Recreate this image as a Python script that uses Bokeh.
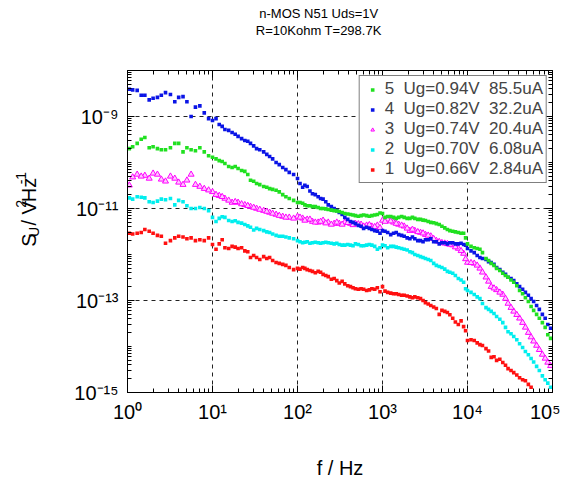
import math
from bokeh.plotting import figure
from bokeh.layouts import row, column
from bokeh.models import (Range1d, LogAxis, FixedTicker, Legend, LegendItem,
                          CustomJSTickFormatter)
from bokeh.core.properties import value
from bokeh.embed import file_html
from bokeh.resources import INLINE

# ---------------- data ----------------
freq = [1.05, 1.3, 1.6, 2.0, 2.5, 3.2, 4.0, 5.0, 6.3, 8.0,
        10, 12, 14, 17, 20, 24, 28, 33, 40, 47, 56, 67, 80,
        100, 115, 130, 150, 175, 200, 230, 270, 310, 360, 420, 480, 560, 650, 750, 870,
        1000, 1150, 1350, 1550, 1800, 2100, 2400, 2800, 3200, 3700, 4300, 5000, 5800, 6700, 7800, 9000,
        10000, 12000, 14000, 16500, 19000, 22000, 26000, 30000, 35000, 41000, 48000, 56000, 65000, 76000, 88000]
freq_b = [1.15, 1.45, 1.8, 2.25, 2.8, 3.6, 4.5, 5.6, 7.1, 9.0,
          11, 13, 15.5, 18.5, 22, 26, 30.5, 36, 43.5, 51, 61, 73, 90,
          107, 122, 140, 162, 187, 215, 250, 290, 335, 390, 450, 520, 600, 700, 810, 935,
          1070, 1250, 1450, 1680, 1950, 2250, 2600, 3000, 3450, 4000, 4650, 5400, 6200, 7200, 8400, 9500,
          11000, 13000, 15000, 17700, 20500, 24000, 28000, 32500, 38000, 44500, 52000, 60000, 70000, 82000, 95000]

s5_green = [2.0e-10, 2.6e-10, 3.5e-10, 2.2e-10, 1.9e-10, 2.1e-10, 2.6e-10, 2.1e-10, 1.8e-10, 1.7e-10,
            1.3e-10, 1.1e-10, 9.5e-11, 7.8e-11, 7.4e-11, 6.4e-11, 4.1e-11, 3.5e-11, 3.0e-11, 2.7e-11, 2.5e-11, 2.0e-11, 1.65e-11,
            1.35e-11, 1.3e-11, 1.15e-11, 1.1e-11, 1.05e-11, 1.0e-11, 9.5e-12, 9.0e-12, 8.6e-12, 7.8e-12, 7.4e-12, 7.0e-12, 7.0e-12, 7.0e-12, 7.0e-12, 7.4e-12,
            7.8e-12, 6.7e-12, 6.4e-12, 6.4e-12, 6.4e-12, 6.1e-12, 6.1e-12, 5.8e-12, 5.5e-12, 5.0e-12, 4.7e-12, 4.1e-12, 3.5e-12, 3.2e-12, 3.0e-12, 2.9e-12,
            1.7e-12, 1.4e-12, 1.3e-12, 8.2e-13, 6.4e-13, 5.0e-13, 3.9e-13, 3.2e-13, 2.5e-13, 1.65e-13, 1.15e-13, 7.4e-14, 5.0e-14, 3.3e-14, 1.8e-14]
s5_green_b = [2.2e-10, 3.2e-10, 2.1e-10, 2.0e-10, 1.9e-10, 2.6e-10, 1.7e-10, 1.9e-10, 2.1e-10, 1.4e-10,
              1.2e-10, 1.05e-10, 8.2e-11, 8.2e-11, 6.7e-11, 5.5e-11, 3.9e-11, 3.3e-11, 2.9e-11, 2.6e-11, 2.3e-11, 1.8e-11, 1.5e-11,
              1.35e-11, 1.2e-11, 1.15e-11, 1.1e-11, 1.0e-11, 9.8e-12, 9.2e-12, 8.8e-12, 8.2e-12, 7.6e-12, 7.2e-12, 6.8e-12, 7.2e-12, 6.8e-12, 7.2e-12, 8.0e-12,
              6.4e-12, 6.7e-12, 6.1e-12, 6.7e-12, 6.1e-12, 6.4e-12, 5.8e-12, 5.6e-12, 5.2e-12, 4.9e-12, 4.5e-12, 3.8e-12, 3.3e-12, 3.1e-12, 2.9e-12, 2.3e-12,
              1.5e-12, 1.35e-12, 1.1e-12, 7.4e-13, 5.8e-13, 4.5e-13, 3.5e-13, 2.8e-13, 2.1e-13, 1.4e-13, 9.5e-14, 6.1e-14, 4.1e-14, 2.6e-14, 1.5e-14]

s4_blue = [3.9e-9, 3.7e-9, 2.9e-9, 2.5e-9, 2.9e-9, 3.0e-9, 2.6e-9, 2.1e-9, 1.6e-9, 1.2e-9,
           8.2e-10, 6.7e-10, 5.2e-10, 4.5e-10, 3.7e-10, 3.0e-10, 2.6e-10, 2.0e-10, 1.7e-10, 1.35e-10, 1.0e-10, 7.8e-11, 6.1e-11,
           4.5e-11, 2.9e-11, 3.0e-11, 2.1e-11, 1.8e-11, 1.6e-11, 1.2e-11, 1.0e-11, 8.2e-12, 6.4e-12, 5.2e-12, 4.7e-12, 4.1e-12, 3.9e-12, 3.5e-12, 3.2e-12,
           3.3e-12, 3.0e-12, 2.9e-12, 2.7e-12, 2.5e-12, 2.2e-12, 2.2e-12, 2.0e-12, 2.1e-12, 2.2e-12, 1.9e-12, 1.8e-12, 1.7e-12, 1.8e-12, 1.7e-12, 1.65e-12,
           1.35e-12, 1.1e-12, 8.6e-13, 7.8e-13, 6.7e-13, 5.2e-13, 4.1e-13, 3.2e-13, 2.7e-13, 2.0e-13, 1.5e-13, 1.1e-13, 7.8e-14, 5.0e-14, 3.0e-14]
s4_blue_b = [3.8e-9, 2.9e-9, 2.3e-9, 2.6e-9, 3.3e-9, 2.1e-9, 2.7e-9, 1.0e-9, 1.7e-9, 9.0e-10,
             9.0e-10, 6.1e-10, 5.0e-10, 4.1e-10, 3.3e-10, 2.9e-10, 2.3e-10, 1.9e-10, 1.5e-10, 1.2e-10, 9.0e-11, 7.0e-11, 5.5e-11,
             3.5e-11, 3.2e-11, 2.4e-11, 2.0e-11, 1.65e-11, 1.4e-11, 1.1e-11, 9.0e-12, 7.4e-12, 5.8e-12, 5.0e-12, 4.3e-12, 3.7e-12, 3.7e-12, 3.3e-12, 2.9e-12,
             3.2e-12, 2.7e-12, 3.0e-12, 2.6e-12, 2.3e-12, 2.4e-12, 2.0e-12, 1.9e-12, 2.1e-12, 1.9e-12, 1.7e-12, 1.8e-12, 1.8e-12, 1.7e-12, 1.75e-12, 1.6e-12,
             1.2e-12, 9.5e-13, 8.2e-13, 7.0e-13, 6.1e-13, 4.7e-13, 3.7e-13, 3.0e-13, 2.3e-13, 1.75e-13, 1.3e-13, 9.5e-14, 6.4e-14, 4.1e-14, 2.5e-14]

s3_magenta = [3.2e-11, 5.5e-11, 5.2e-11, 5.8e-11, 4.3e-11, 5.0e-11, 3.7e-11, 4.1e-11, 3.3e-11, 2.7e-11,
              2.3e-11, 1.9e-11, 1.65e-11, 1.35e-11, 1.35e-11, 1.2e-11, 1.1e-11, 1.0e-11, 9.0e-12, 8.2e-12, 7.4e-12, 6.7e-12, 6.4e-12,
              6.7e-12, 6.1e-12, 5.8e-12, 5.2e-12, 5.0e-12, 5.5e-12, 5.0e-12, 4.7e-12, 4.7e-12, 5.0e-12, 4.7e-12, 4.7e-12, 4.5e-12, 4.3e-12, 4.1e-12, 4.3e-12,
              5.5e-12, 5.8e-12, 5.0e-12, 4.5e-12, 4.1e-12, 3.3e-12, 3.3e-12, 3.0e-12, 2.7e-12, 2.5e-12, 2.0e-12, 1.8e-12, 1.7e-12, 1.6e-12, 1.35e-12, 1.05e-12,
              6.7e-13, 6.4e-13, 5.0e-13, 3.2e-13, 2.0e-13, 1.7e-13, 1.35e-13, 8.6e-14, 5.8e-14, 4.1e-14, 2.6e-14, 1.6e-14, 1.05e-14, 6.7e-15, 4.5e-15]
s3_magenta_b = [4.8e-11, 5.0e-11, 4.5e-11, 5.5e-11, 3.9e-11, 4.5e-11, 3.3e-11, 5.5e-11, 3.0e-11, 2.5e-11,
                2.0e-11, 1.8e-11, 1.5e-11, 1.4e-11, 1.25e-11, 1.15e-11, 1.05e-11, 9.5e-12, 8.6e-12, 7.8e-12, 7.0e-12, 6.4e-12, 6.1e-12,
                6.4e-12, 5.5e-12, 5.8e-12, 5.0e-12, 5.2e-12, 4.8e-12, 4.5e-12, 5.0e-12, 4.5e-12, 4.9e-12, 4.4e-12, 4.6e-12, 4.1e-12, 4.4e-12, 4.0e-12, 3.8e-12,
                5.2e-12, 5.3e-12, 4.7e-12, 4.3e-12, 3.7e-12, 3.5e-12, 3.1e-12, 2.9e-12, 2.6e-12, 2.2e-12, 1.9e-12, 1.75e-12, 1.65e-12, 1.45e-12, 1.2e-12, 8.0e-13,
                6.6e-13, 5.8e-13, 4.1e-13, 2.6e-13, 1.85e-13, 1.5e-13, 1.1e-13, 7.0e-14, 4.9e-14, 3.3e-14, 2.0e-14, 1.3e-14, 8.5e-15, 5.5e-15, 3.8e-15]

s2_cyan = [1.7e-11, 1.8e-11, 1.7e-11, 1.35e-11, 1.6e-11, 1.65e-11, 1.5e-11, 1.15e-11, 1.0e-11, 1.0e-11,
           6.4e-12, 6.1e-12, 6.4e-12, 5.2e-12, 5.0e-12, 4.5e-12, 3.9e-12, 3.7e-12, 3.3e-12, 3.0e-12, 2.6e-12, 2.5e-12, 2.3e-12,
           2.0e-12, 1.8e-12, 1.9e-12, 1.8e-12, 1.8e-12, 1.8e-12, 1.8e-12, 1.7e-12, 1.65e-12, 1.6e-12, 1.6e-12, 1.7e-12, 1.55e-12, 1.6e-12, 1.6e-12, 1.3e-12,
           1.6e-12, 1.4e-12, 1.5e-12, 1.4e-12, 1.3e-12, 1.15e-12, 1.0e-12, 9.0e-13, 8.2e-13, 7.4e-13, 5.8e-13, 5.2e-13, 4.3e-13, 3.9e-13, 3.0e-13, 2.5e-13,
           1.65e-13, 1.35e-13, 1.1e-13, 7.0e-14, 5.8e-14, 4.5e-14, 3.3e-14, 2.1e-14, 1.65e-14, 1.15e-14, 7.8e-15, 5.5e-15, 3.7e-15, 2.3e-15, 1.6e-15]
s2_cyan_b = [1.6e-11, 1.75e-11, 1.4e-11, 1.45e-11, 1.55e-11, 1.2e-11, 1.4e-11, 1.0e-11, 1.05e-11, 9.0e-12,
             5.2e-12, 6.6e-12, 5.5e-12, 5.4e-12, 4.8e-12, 4.2e-12, 3.4e-12, 3.5e-12, 3.1e-12, 2.8e-12, 2.5e-12, 2.4e-12, 2.2e-12,
             1.9e-12, 1.85e-12, 1.75e-12, 1.85e-12, 1.75e-12, 1.85e-12, 1.75e-12, 1.75e-12, 1.6e-12, 1.65e-12, 1.55e-12, 1.65e-12, 1.55e-12, 1.65e-12, 1.5e-12, 1.4e-12,
             1.55e-12, 1.5e-12, 1.45e-12, 1.35e-12, 1.25e-12, 1.1e-12, 9.5e-13, 8.6e-13, 7.8e-13, 6.4e-13, 5.5e-13, 4.8e-13, 4.1e-13, 3.5e-13, 2.8e-13, 1.8e-13,
             1.5e-13, 1.2e-13, 8.6e-14, 6.4e-14, 5.2e-14, 3.9e-14, 2.6e-14, 1.9e-14, 1.4e-14, 9.5e-15, 6.6e-15, 4.6e-15, 3.0e-15, 1.9e-15, 1.3e-15]

s1_red = [2.9e-12, 2.9e-12, 3.5e-12, 2.9e-12, 2.5e-12, 2.0e-12, 2.5e-12, 2.2e-12, 2.0e-12, 2.0e-12,
          1.65e-12, 1.7e-12, 1.4e-12, 1.5e-12, 1.35e-12, 1.2e-12, 8.6e-13, 8.6e-13, 9.0e-13, 8.6e-13, 6.7e-13, 6.1e-13, 5.2e-13,
          5.0e-13, 5.2e-13, 4.7e-13, 4.3e-13, 4.3e-13, 3.7e-13, 3.3e-13, 3.0e-13, 2.4e-13, 2.3e-13, 2.0e-13, 1.8e-13, 1.8e-13, 1.65e-13, 1.8e-13, 1.9e-13,
          2.0e-13, 1.5e-13, 1.4e-13, 1.35e-13, 1.3e-13, 1.2e-13, 1.2e-13, 1.1e-13, 9.0e-14, 7.8e-14, 6.7e-14, 6.1e-14, 5.5e-14, 4.1e-14, 3.0e-14, 2.7e-14,
          1.35e-14, 1.35e-14, 1.1e-14, 9.0e-15, 5.8e-15, 5.0e-15, 4.5e-15, 3.3e-15, 2.7e-15, 2.1e-15, 1.8e-15, 1.3e-15]
s1_red_b = [2.8e-12, 3.0e-12, 3.2e-12, 2.6e-12, 1.75e-12, 2.3e-12, 2.4e-12, 2.3e-12, 2.1e-12, 2.3e-12,
            1.3e-12, 2.1e-12, 1.35e-12, 1.45e-12, 1.4e-12, 1.15e-12, 9.5e-13, 7.8e-13, 8.2e-13, 7.4e-13, 6.4e-13, 5.8e-13, 4.7e-13,
            4.8e-13, 5.0e-13, 4.5e-13, 4.0e-13, 4.1e-13, 3.5e-13, 2.9e-13, 2.7e-13, 2.6e-13, 2.1e-13, 1.9e-13, 1.75e-13, 1.75e-13, 1.7e-13, 1.75e-13, 1.55e-13,
            1.6e-13, 1.45e-13, 1.4e-13, 1.3e-13, 1.25e-13, 1.15e-13, 1.15e-13, 1.0e-13, 8.4e-14, 7.2e-14, 5.0e-14, 5.8e-14, 4.9e-14, 3.4e-14, 3.6e-14, 2.2e-14,
            1.4e-14, 1.2e-14, 1.05e-14, 8.0e-15, 6.0e-15, 5.3e-15, 3.9e-15, 3.0e-15, 2.4e-15, 1.9e-15, 1.5e-15]

legend_labels = ["5  Ug=0.94V  85.5uA", "4  Ug=0.82V  32.2uA", "3  Ug=0.74V  20.4uA",
                 "2  Ug=0.70V  6.08uA", "1  Ug=0.66V  2.84uA"]
title_lines = ["n-MOS N51  Uds=1V", "R=10Kohm  T=298.7K"]
x_label = "f / Hz"
y_label_pieces = ["S", "U", "/ V", "2", "Hz", "-1"]
x_major = [1, 10, 100, 1000, 10000, 100000]
y_major = [1e-15, 1e-13, 1e-11, 1e-9]

FONT = "Liberation Sans"
LEFT_W = 50          # strip carrying the rotated y-axis title
TOP_H = 40           # strip carrying the two-line chart title
H = 478              # total height
FRAME_L, FRAME_T, FRAME_W, FRAME_H = 127, 70, 425, 322

# ---------------- main figure ----------------
p = figure(frame_width=FRAME_W, frame_height=FRAME_H, x_axis_type="log", y_axis_type="log",
           x_range=Range1d(1, 1e5), y_range=Range1d(1e-15, 1e-8), title=None,
           output_backend="svg", toolbar_location=None,
           min_border_left=FRAME_L - LEFT_W, min_border_right=8, min_border_top=FRAME_T - TOP_H,
           min_border_bottom=H - FRAME_T - FRAME_H)
p.background_fill_color = "white"
p.border_fill_color = "white"
p.outline_line_color = "black"
p.outline_line_width = 1

x_minor = [k * 10 ** d for d in range(0, 5) for k in range(2, 10)]
y_minor = [k * 10.0 ** d for d in range(-15, -8) for k in range(1, 10)]
xt = FixedTicker(ticks=x_major, minor_ticks=x_minor)
yt = FixedTicker(ticks=y_major, minor_ticks=y_minor)

sup_code = """
const e = Math.round(Math.log10(tick));
const m = {'-':'\\u207b','0':'\\u2070','1':'\\u00b9','2':'\\u00b2','3':'\\u00b3','4':'\\u2074',
           '5':'\\u2075','6':'\\u2076','7':'\\u2077','8':'\\u2078','9':'\\u2079'};
return '10' + String(e).split('').map(c => m[c]).join('');
"""
sup_fmt = CustomJSTickFormatter(code=sup_code)
blank = CustomJSTickFormatter(code="return ''")

top_ax = LogAxis()
right_ax = LogAxis()
p.add_layout(top_ax, "above")
p.add_layout(right_ax, "right")
for ax in p.xaxis:
    ax.ticker = xt
for ax in p.yaxis:
    ax.ticker = yt
for ax in list(p.xaxis) + list(p.yaxis):
    ax.major_tick_in = 7
    ax.major_tick_out = 0
    ax.minor_tick_in = 4
    ax.minor_tick_out = 0
    ax.axis_line_color = "black"
    ax.major_tick_line_color = "black"
    ax.minor_tick_line_color = "black"
for ax in (top_ax, right_ax):
    ax.formatter = blank
    ax.major_label_text_font_size = "0px"
    ax.major_label_standoff = 0
for ax in (p.below[0], p.left[0]):
    ax.formatter = sup_fmt
    ax.major_label_text_font = FONT
    ax.major_label_text_font_size = "20px"
    ax.major_label_text_color = "black"
p.below[0].major_label_standoff = 8
p.left[0].major_label_standoff = 9

xa = p.below[0]
xa.axis_label = x_label
xa.axis_label_text_font = FONT
xa.axis_label_text_font_size = "20px"
xa.axis_label_text_font_style = "normal"
xa.axis_label_text_color = "black"
xa.axis_label_standoff = 31

p.xgrid.grid_line_color = "#222222"
p.xgrid.grid_line_dash = "4 4"
p.ygrid.grid_line_color = "#222222"
p.ygrid.grid_line_dash = "4 4"

# ---------------- data marks ----------------
r1 = p.scatter(freq[:len(s1_red)] + freq_b[:len(s1_red_b)], s1_red + s1_red_b,
               marker="square", size=3.6, color="#ff1010", line_width=0)
r2 = p.scatter(freq + freq_b, s2_cyan + s2_cyan_b, marker="square", size=3.6,
               color="#00eeee", line_width=0)
r3 = p.scatter(freq + freq_b, s3_magenta + s3_magenta_b, marker="triangle", size=6,
               line_color="#ff00ff", fill_color="#ffc8ff", line_width=1)
r4 = p.scatter(freq + freq_b, s4_blue + s4_blue_b, marker="square", size=3.6,
               color="#0a14e6", line_width=0)
r5 = p.scatter(freq + freq_b, s5_green + s5_green_b, marker="square", size=3.6,
               color="#20e020", line_width=0)

legend = Legend(items=[LegendItem(label=legend_labels[0], renderers=[r5]),
                       LegendItem(label=legend_labels[1], renderers=[r4]),
                       LegendItem(label=legend_labels[2], renderers=[r3]),
                       LegendItem(label=legend_labels[3], renderers=[r2]),
                       LegendItem(label=legend_labels[4], renderers=[r1])],
                location="top_right", margin=5, padding=3, spacing=0,
                glyph_width=19, glyph_height=9, label_height=18, label_standoff=3,
                label_text_font=FONT, label_text_font_size="17px",
                border_line_color="black", border_line_width=1,
                background_fill_color="white", background_fill_alpha=1)
p.add_layout(legend)


def strip(w, h):
    f = figure(width=w, height=h, x_range=Range1d(0, w), y_range=Range1d(0, h),
               min_border=0, toolbar_location=None, output_backend="svg",
               x_axis_location=None, y_axis_location=None, title=None)
    f.outline_line_color = None
    f.grid.visible = False
    f.background_fill_color = "white"
    f.border_fill_color = "white"
    return f


# ---------------- rotated y-axis title strip ----------------
def tw(s, size):
    w = {"S": 0.667, "U": 0.722, "/": 0.278, " ": 0.278, "V": 0.667, "H": 0.722,
         "z": 0.5, "-": 0.333}
    return sum(w.get(c, 0.556) for c in s) * size

LAB_H = H - TOP_H
lab = strip(LEFT_W, LAB_H)
sizes = [20, 14, 20, 14, 20, 14]
shift = [0, 5, 0, -8, 0, -8]
base_x = 28
start_page_y = 282
cum = 0.0
for txt, sz, sh in zip(y_label_pieces, sizes, shift):
    if txt.startswith("/"):
        cum += tw(" ", 20)
    lab.text(x=[base_x + sh], y=[H - (start_page_y - cum)], text=[txt], angle=math.pi / 2,
             text_font=value(FONT), text_font_size=f"{sz}px", text_color="black",
             text_align="left", text_baseline="alphabetic")
    cum += tw(txt, sz)

# ---------------- chart title strip ----------------
TOTAL_W = FRAME_L + FRAME_W + 8
top = strip(TOTAL_W, TOP_H)
for line, page_y in zip(title_lines, (13, 30)):
    top.text(x=[320], y=[TOP_H - page_y], text=[line],
             text_font=value(FONT), text_font_size="13px", text_color="black",
             text_align="center", text_baseline="middle")

layout = column(top, row(lab, p, spacing=0), spacing=0)
open("out.html", "w", encoding="utf-8").write(file_html(layout, INLINE))
